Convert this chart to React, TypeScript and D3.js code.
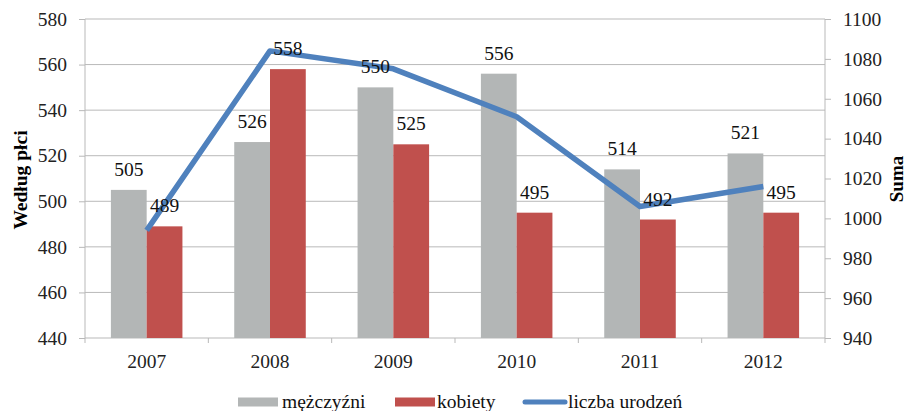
import React, { useRef, useEffect } from "react";
import * as d3 from "d3";

const years = ["2007", "2008", "2009", "2010", "2011", "2012"];
const men = [505, 526, 550, 556, 514, 521];
const women = [489, 558, 525, 495, 492, 495];
const births = [994, 1084, 1075, 1051, 1006, 1016];
const leftTicks = [440, 460, 480, 500, 520, 540, 560, 580];
const rightTicks = [940, 960, 980, 1000, 1020, 1040, 1060, 1080, 1100];

const W = 908;
const H = 411;
const FONT = '"Liberation Serif", "Times New Roman", serif';
const FS = 19.5;

const App = () => {
  const svgRef = useRef<SVGSVGElement>(null);

  useEffect(() => {
    const svg = d3.select(svgRef.current);
    svg.selectAll("*").remove();

    const left = 85, right = 825, top = 19, bottom = 338;

    const x = d3.scaleBand().domain(years).range([left, right]).paddingInner(0.42).paddingOuter(0.21);
    const y = d3.scaleLinear().domain([440, 580]).range([bottom, top]);
    const y2 = d3.scaleLinear().domain([940, 1100]).range([bottom, top]);
    const bw = x.bandwidth() / 2;
    const step = (right - left) / years.length;

    // gridlines
    svg.append("g")
      .selectAll("line")
      .data(leftTicks.slice(1))
      .join("line")
      .attr("x1", left).attr("x2", right)
      .attr("y1", d => y(d)).attr("y2", d => y(d))
      .attr("stroke", "#b9b9b9").attr("stroke-width", 1);

    // left axis
    const gl = svg.append("g").attr("transform", `translate(${left},0)`)
      .call(d3.axisLeft(y).tickValues(leftTicks).tickFormat(d3.format("d")).tickSize(6).tickPadding(12));
    gl.attr("font-family", null).attr("font-size", null);
    gl.select(".domain").attr("stroke", "#b9b9b9").attr("d", `M0,${top}V${bottom}`);
    gl.selectAll(".tick line").attr("stroke", "#b9b9b9");
    gl.selectAll("text").style("font-family", FONT).style("font-size", FS + "px").attr("fill", "#222");

    // right axis
    const gr = svg.append("g").attr("transform", `translate(${right},0)`)
      .call(d3.axisRight(y2).tickValues(rightTicks).tickFormat(d3.format("d")).tickSize(6).tickPadding(12));
    gr.attr("font-family", null).attr("font-size", null);
    gr.select(".domain").attr("stroke", "#b9b9b9").attr("d", `M0,${top}V${bottom}`);
    gr.selectAll(".tick line").attr("stroke", "#b9b9b9");
    gr.selectAll("text").style("font-family", FONT).style("font-size", FS + "px").attr("fill", "#222");

    // bottom axis
    svg.append("line")
      .attr("x1", left).attr("x2", right).attr("y1", bottom).attr("y2", bottom)
      .attr("stroke", "#b9b9b9");
    svg.append("g")
      .selectAll("line")
      .data(d3.range(years.length + 1))
      .join("line")
      .attr("x1", i => left + i * step).attr("x2", i => left + i * step)
      .attr("y1", bottom).attr("y2", bottom + 5)
      .attr("stroke", "#b9b9b9");
    svg.append("g")
      .selectAll("text")
      .data(years)
      .join("text")
      .attr("x", d => x(d)! + x.bandwidth() / 2)
      .attr("y", 368)
      .attr("text-anchor", "middle")
      .style("font-family", FONT).style("font-size", FS + "px").attr("fill", "#222")
      .text(d => d);

    // bars
    const series = [
      { vals: men, color: "#b3b6b6", off: 0 },
      { vals: women, color: "#c0504d", off: 1 },
    ];
    series.forEach(s => {
      svg.append("g")
        .selectAll("rect")
        .data(s.vals)
        .join("rect")
        .attr("x", (d, i) => x(years[i])! + s.off * bw)
        .attr("y", d => y(d))
        .attr("width", bw)
        .attr("height", d => bottom - y(d))
        .attr("fill", s.color);
    });

    // line
    const line = d3.line<number>()
      .x((d, i) => x(years[i])! + x.bandwidth() / 2)
      .y(d => y2(d));
    svg.append("path")
      .datum(births)
      .attr("d", line)
      .attr("fill", "none")
      .attr("stroke", "#4f81bd")
      .attr("stroke-width", 5.5)
      .attr("stroke-linejoin", "round");

    // labels
    series.forEach(s => {
      svg.append("g")
        .selectAll("text")
        .data(s.vals)
        .join("text")
        .attr("x", (d, i) => x(years[i])! + s.off * bw + bw / 2)
        .attr("y", d => y(d) - 14)
        .attr("text-anchor", "middle")
        .style("font-family", FONT).style("font-size", FS + "px").attr("fill", "#111")
        .text(d => d);
    });

    // axis titles
    svg.append("text")
      .attr("transform", `translate(27,180) rotate(-90)`)
      .attr("text-anchor", "middle")
      .style("font-family", FONT).style("font-size", FS + "px").attr("font-weight", "bold")
      .text("Według płci");
    svg.append("text")
      .attr("transform", `translate(903,179) rotate(-90)`)
      .attr("text-anchor", "middle")
      .style("font-family", FONT).style("font-size", "19px").attr("font-weight", "bold")
      .text("Suma");

    // legend
    const leg = [
      { label: "mężczyźni", color: "#b3b6b6", x: 238, tx: 282, kind: "rect" },
      { label: "kobiety", color: "#c0504d", x: 395, tx: 437, kind: "rect" },
      { label: "liczba urodzeń", color: "#4f81bd", x: 523, tx: 568, kind: "line" },
    ];
    leg.forEach(l => {
      if (l.kind === "rect") {
        svg.append("rect").attr("x", l.x).attr("y", 397.5).attr("width", 40).attr("height", 9).attr("fill", l.color);
      } else {
        svg.append("line").attr("x1", l.x + 2).attr("x2", l.x + 42).attr("y1", 402).attr("y2", 402)
          .attr("stroke", l.color).attr("stroke-width", 5).attr("stroke-linecap", "round");
      }
      svg.append("text")
        .attr("x", l.tx).attr("y", 408)
        .style("font-family", FONT).style("font-size", FS + "px").attr("fill", "#111")
        .text(l.label);
    });
  }, []);

  return (
    <div style={{ position: "absolute", left: 0, top: 0, width: W, height: H, background: "#fff" }}>
      <svg ref={svgRef} width={W} height={H} />
    </div>
  );
};

export default App;
